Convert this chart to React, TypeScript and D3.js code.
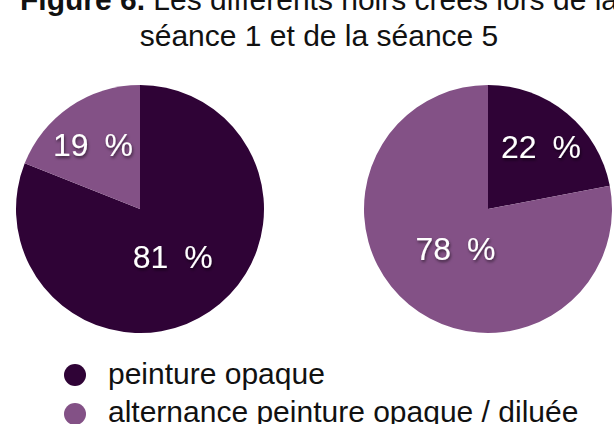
import React from "react";
import * as d3 from "d3";

const categories = ["peinture opaque", "alternance peinture opaque / diluée"];
const seance1 = [81, 19];
const seance5 = [22, 78];
const colors = ["#2f0336", "#835186"];
const titleBold = "Figure 6.";
const titleRest = " Les différents noirs créés lors de la";
const titleLine2 = "séance 1 et de la séance 5";

const W = 614;
const H = 424;
const R = 124;
const pies = [
  { values: seance1, cx: 140, cy: 209, labels: [[172.7, 268], [93, 156]] },
  { values: seance5, cx: 488, cy: 209, labels: [[541, 158], [455.5, 260]] },
];

export default function App() {
  const pie = d3.pie<number>().sort(null).value((d) => d);
  const arc = d3.arc<d3.PieArcDatum<number>>().innerRadius(0).outerRadius(R);
  const font = "'Liberation Sans', Arial, Helvetica, sans-serif";
  return (
    <svg
      width={W}
      height={H}
      style={{ position: "absolute", left: 0, top: 0, background: "#fff" }}
      fontFamily={font}
    >
      <defs>
        <filter id="sh" x="-20%" y="-20%" width="140%" height="160%">
          <feDropShadow dx="1" dy="2" stdDeviation="1.5" floodColor="#000" floodOpacity="0.55" />
        </filter>
      </defs>
      <rect width={W} height={H} fill="#fff" />
      <text x={319} y={10} textAnchor="middle" fontSize={30} fill="#111">
        <tspan fontWeight="bold">{titleBold}</tspan>
        <tspan>{titleRest}</tspan>
      </text>
      <text x={319} y={46} textAnchor="middle" fontSize={30} fill="#111">
        {titleLine2}
      </text>
      {pies.map((p, i) => {
        const arcs = pie(p.values);
        return (
          <g key={i}>
            <g transform={`translate(${p.cx},${p.cy})`}>
              {arcs.map((a, j) => (
                <path key={j} d={arc(a) || ""} fill={colors[j]} />
              ))}
            </g>
            {arcs.map((a, j) => (
              <text
                key={j}
                x={p.labels[j][0]}
                y={p.labels[j][1]}
                textAnchor="middle"
                fontSize={32}
                wordSpacing={7}
                fill="#fff"
                filter="url(#sh)"
              >
                {`${a.data} %`}
              </text>
            ))}
          </g>
        );
      })}
      {categories.map((c, i) => (
        <g key={c}>
          <circle cx={75} cy={375 + i * 39} r={11} fill={colors[i]} />
          <text x={108} y={384 + i * 38} fontSize={30} fill="#111">
            {c}
          </text>
        </g>
      ))}
    </svg>
  );
}
